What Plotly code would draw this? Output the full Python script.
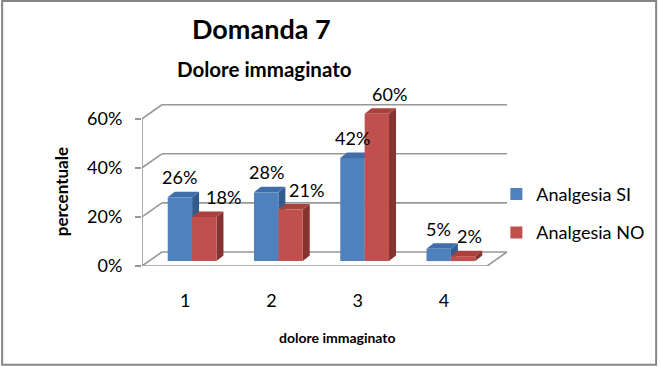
import plotly.graph_objects as go

# ---------------- data ----------------
CATEGORIES = ["1", "2", "3", "4"]
SERIES_NAMES = ["Analgesia SI", "Analgesia NO"]
ANALGESIA_SI = [26, 28, 42, 5]
ANALGESIA_NO = [18, 21, 60, 2]
Y_TICKS = [0, 20, 40, 60]
TITLE = "Domanda 7"
SUBTITLE = "Dolore immaginato"
X_TITLE = "dolore immaginato"
Y_TITLE = "percentuale"

# ---------------- layout / style constants ----------------
W_FIG, H_FIG = 661, 367
FONT = "Lato"
UX = 86.67          # px per category unit
UY = 2.45           # px per percent unit
DEPTH_PX = (20.0, 14.0)   # depth of the 3D box (right, up) in px
F = 0.35            # fraction of depth where the bar fronts sit
DDX = DEPTH_PX[0] / UX
DDY = DEPTH_PX[1] / UY
BAR_W = 24.5 / UX
BDX, BDY = 7.0 / UX, 5.5 / UY    # depth of each bar
L = 142.0
R = L + 4 * UX + DEPTH_PX[0]
B = 266.0
XA = 0.5 - F * DDX
XB = 4.5 + (1 - F) * DDX
YBOT = -F * DDY
YTOP = 60 + (1 - F) * DDY + 0.3
T = B - (YTOP - YBOT) * UY
GRID = "#979797"
GRID_W = 1.6
COLORS = {
    "SI": ("#4F81BD", "#3F6EAA", "#335C8E"),
    "NO": ("#C0504D", "#A9423F", "#86322F"),
}
RED_LABEL_DX = [19, 16, 13, 6]
LABEL_DY = 20


def px_x(X):
    return (X - L) / (R - L)


def px_y(Y):
    return (B - Y) / (B - T)


xpos = [i + 1 for i in range(len(CATEGORIES))]

fig = go.Figure()

series = [
    (SERIES_NAMES[0], ANALGESIA_SI, COLORS["SI"], -BAR_W),
    (SERIES_NAMES[1], ANALGESIA_NO, COLORS["NO"], 0.0),
]

for name, vals, (cf, ct, cs), off in series:
    fig.add_trace(go.Bar(
        x=xpos, y=vals, name=name, width=BAR_W, offset=off,
        marker=dict(color=cf, line=dict(width=0)),
        legendgroup=name, hoverinfo="skip",
    ))

# dummy trace for the front-plane tick axes
fig.add_trace(go.Scatter(x=[], y=[], xaxis="x2", yaxis="y2", showlegend=False))

shapes = []
# back wall gridlines
for v in Y_TICKS:
    shapes.append(dict(type="line", xref="x", yref="y", layer="below",
                       x0=XA + DDX, x1=XB, y0=v + (1 - F) * DDY, y1=v + (1 - F) * DDY,
                       line=dict(color=GRID, width=GRID_W)))
    # side wall diagonals
    shapes.append(dict(type="line", xref="x", yref="y", layer="below",
                       x0=XA, x1=XA + DDX, y0=v - F * DDY, y1=v + (1 - F) * DDY,
                       line=dict(color=GRID, width=GRID_W)))
# front vertical axis line
shapes.append(dict(type="line", xref="x", yref="y", layer="below",
                   x0=XA, x1=XA, y0=-F * DDY, y1=Y_TICKS[-1] - F * DDY,
                   line=dict(color=GRID, width=GRID_W)))
# floor front and right edges
shapes.append(dict(type="line", xref="x", yref="y", layer="below",
                   x0=XA, x1=XB - DDX, y0=-F * DDY, y1=-F * DDY,
                   line=dict(color=GRID, width=GRID_W)))
shapes.append(dict(type="line", xref="x", yref="y", layer="below",
                   x0=XB - DDX, x1=XB, y0=-F * DDY, y1=(1 - F) * DDY,
                   line=dict(color=GRID, width=GRID_W)))

# 3D faces of the bars (top and side), computed from data
for i, c in enumerate(xpos):
    for name, vals, (cf, ct, cs), off in series:
        v = vals[i]
        xl = c + off
        xr = xl + BAR_W
        top = f"M{xl},{v} L{xr},{v} L{xr + BDX},{v + BDY} L{xl + BDX},{v + BDY} Z"
        side = f"M{xr},0 L{xr},{v} L{xr + BDX},{v + BDY} L{xr + BDX},{BDY} Z"
        shapes.append(dict(type="path", xref="x", yref="y", layer="below", path=side,
                           fillcolor=cs, line=dict(width=0)))
        shapes.append(dict(type="path", xref="x", yref="y", layer="below", path=top,
                           fillcolor=ct, line=dict(width=0)))

# outer border
shapes.append(dict(type="rect", xref="paper", yref="paper",
                   x0=px_x(1.5), x1=px_x(658.5), y0=px_y(364.5), y1=px_y(1.5),
                   line=dict(color="#868686", width=2), fillcolor="rgba(0,0,0,0)"))

annotations = []
for i, c in enumerate(xpos):
    annotations.append(dict(x=c - BAR_W / 2, y=ANALGESIA_SI[i], xref="x", yref="y",
                            text=f"{ANALGESIA_SI[i]}%", showarrow=False,
                            yanchor="middle", xanchor="center", yshift=LABEL_DY,
                            font=dict(family=FONT, size=18, color="black")))
    annotations.append(dict(x=c + BAR_W / 2, y=ANALGESIA_NO[i], xref="x", yref="y",
                            text=f"{ANALGESIA_NO[i]}%", showarrow=False,
                            yanchor="middle", xanchor="center", yshift=LABEL_DY,
                            xshift=RED_LABEL_DX[i],
                            font=dict(family=FONT, size=18, color="black")))

annotations += [
    dict(x=px_x(262), y=px_y(29), xref="paper", yref="paper", text=TITLE,
         showarrow=False, xanchor="center", yanchor="middle",
         font=dict(family=FONT, size=27, color="black", weight="bold")),
    dict(x=px_x(265), y=px_y(69), xref="paper", yref="paper", text=SUBTITLE,
         showarrow=False, xanchor="center", yanchor="middle",
         font=dict(family=FONT, size=20.5, color="black", weight="bold")),
    dict(x=px_x(62), y=px_y(192), xref="paper", yref="paper", text=Y_TITLE,
         showarrow=False, xanchor="center", yanchor="middle", textangle=-90,
         font=dict(family=FONT, size=17, color="black", weight="bold")),
    dict(x=px_x(338.5), y=px_y(337), xref="paper", yref="paper", text=X_TITLE,
         showarrow=False, xanchor="center", yanchor="middle",
         font=dict(family=FONT, size=14, color="black", weight="bold")),
]

hidden = dict(showgrid=False, zeroline=False, showline=False, showticklabels=False, ticks="")

fig.update_layout(
    template="none",
    width=W_FIG, height=H_FIG,
    margin=dict(l=L, r=W_FIG - R, t=T, b=H_FIG - B, pad=0),
    paper_bgcolor="white", plot_bgcolor="rgba(0,0,0,0)",
    barmode="overlay",
    xaxis=dict(range=[XA, XB], **hidden),
    yaxis=dict(range=[YBOT, YTOP], **hidden),
    xaxis2=dict(range=[XA + F * DDX, XB + F * DDX], overlaying="x", anchor="y2", side="bottom",
                tickvals=xpos, ticktext=CATEGORIES, showgrid=False, zeroline=False,
                showline=False, ticks="", ticklabelstandoff=22,
                tickfont=dict(family=FONT, size=18, color="black")),
    yaxis2=dict(range=[YBOT + F * DDY, YTOP + F * DDY], overlaying="y", anchor="x2", side="left",
                tickvals=Y_TICKS, ticktext=[f"{v}%" for v in Y_TICKS],
                showgrid=False, zeroline=False, showline=False,
                ticks="outside", ticklen=6, tickcolor=GRID, tickwidth=GRID_W,
                ticklabelstandoff=9,
                tickfont=dict(family=FONT, size=18, color="black")),
    showlegend=True,
    legend=dict(x=px_x(498), y=px_y(176), xanchor="left", yanchor="top",
                traceorder="grouped", tracegroupgap=12,
                font=dict(family=FONT, size=18, color="black"),
                bgcolor="rgba(0,0,0,0)", borderwidth=0),
    shapes=shapes,
    annotations=annotations,
)

fig.write_html("out.html",
               config={"displayModeBar": False},
               post_script="document.body.style.margin='0';document.body.style.padding='0';")
